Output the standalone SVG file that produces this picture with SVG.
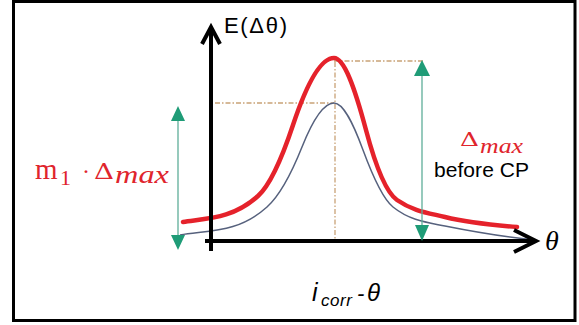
<svg xmlns="http://www.w3.org/2000/svg" width="579" height="325" viewBox="0 0 579 325">
<defs>
<style>
.axis{stroke:#000;stroke-width:4;fill:none;stroke-linecap:butt}
.chev{stroke:#000;stroke-width:4;fill:none;stroke-linejoin:miter}
.guide{stroke:#c9a277;stroke-width:1.3;fill:none;stroke-dasharray:5 2 1.5 2}
.shaft{stroke:#5fae99;stroke-width:1.3;fill:none}
.head{fill:#1f9c77}
.red{fill:#e0242c}
.sans{font-family:"Liberation Sans","DejaVu Sans",sans-serif}
.serif{font-family:"Liberation Serif","DejaVu Serif",serif}
.delta{font-family:"DejaVu Serif","Liberation Serif",serif}
</style>
</defs>
<rect x="0" y="0" width="579" height="325" fill="#fff"/>
<rect x="13.5" y="1.5" width="561.5" height="319" fill="none" stroke="#000" stroke-width="3"/>

<g id="guides">
<line class="guide" x1="215" y1="103" x2="334" y2="103"/>
<line class="guide" x1="334" y1="61" x2="423" y2="61"/>
<line class="guide" x1="335" y1="62" x2="335" y2="240"/>
</g>

<g id="curves">
<path d="M180,235 C209,230.1 238,233.1 267,207 C278.67,196.5 290.33,176.2 302,147 C312.67,120.3 323.33,103 334,103 C343.67,103 353.33,123.9 363,150 C373,177 383,199 393,207 C410.33,220.9 427.67,222.5 445,226 C475,232 505,237 535,240" fill="none" stroke="#56617d" stroke-width="1.5"/>
<path d="M183,222 C208,218.25 233,218.5 258,196 C269.67,185.5 281.33,160 293,125 C306.67,84 320.33,58 334,58 C344.67,58 355.33,90 366,130 C376.33,168.75 386.67,192.8 397,200 C413,211.2 429,213 445,217 C469,223 493,225.1 517,227" fill="none" stroke="#e5222b" stroke-width="4.5" stroke-linecap="round"/>
</g>

<g id="axes">
<line class="axis" x1="211" y1="28" x2="211" y2="251"/>
<polyline class="chev" points="202,44 211,27 220,44"/>
<line class="axis" x1="205" y1="241" x2="536" y2="241"/>
<polyline class="chev" points="514,230 536,241 514,252"/>
</g>

<g id="arrow-left">
<line class="shaft" x1="178" y1="118" x2="178" y2="237"/>
<polygon class="head" points="178,106 171,121 185,121"/>
<polygon class="head" points="178,250 171,235 185,235"/>
</g>
<g id="arrow-right">
<line class="shaft" x1="422" y1="72" x2="422" y2="228"/>
<polygon class="head" points="422,60 414,76 430,76"/>
<polygon class="head" points="422,241 415,225 429,225"/>
</g>

<g id="label-y">
<text class="sans" x="224" y="33" font-size="22" textLength="63">E(Δθ)</text>
</g>
<g id="label-x">
<text class="serif" x="545" y="250" font-size="28" font-style="italic">θ</text>
</g>
<g id="label-m1">
<text class="serif red"><tspan x="35" y="179" font-size="29">m</tspan><tspan x="60" y="185" font-size="22">1</tspan><tspan x="82" y="179" font-size="24">·</tspan><tspan class="delta" x="94" y="179" font-size="23" textLength="20" lengthAdjust="spacingAndGlyphs">Δ</tspan><tspan x="115" y="183" font-size="26" font-style="italic" textLength="54" lengthAdjust="spacingAndGlyphs">max</tspan></text>
</g>
<g id="label-dmax">
<text class="serif red"><tspan class="delta" x="460" y="146" font-size="19" textLength="19" lengthAdjust="spacingAndGlyphs">Δ</tspan><tspan x="480" y="153" font-size="21" font-style="italic" textLength="43" lengthAdjust="spacingAndGlyphs">max</tspan></text>
<text class="sans" x="434" y="177" font-size="21" textLength="95">before CP</text>
</g>
<g id="label-icorr">
<text class="sans" font-style="italic"><tspan x="312" y="301" font-size="25">i</tspan><tspan x="321" y="306" font-size="17" textLength="31">corr</tspan><tspan x="357" y="301" font-size="22">-</tspan><tspan x="367" y="301" font-size="24">θ</tspan></text>
</g>
</svg>
